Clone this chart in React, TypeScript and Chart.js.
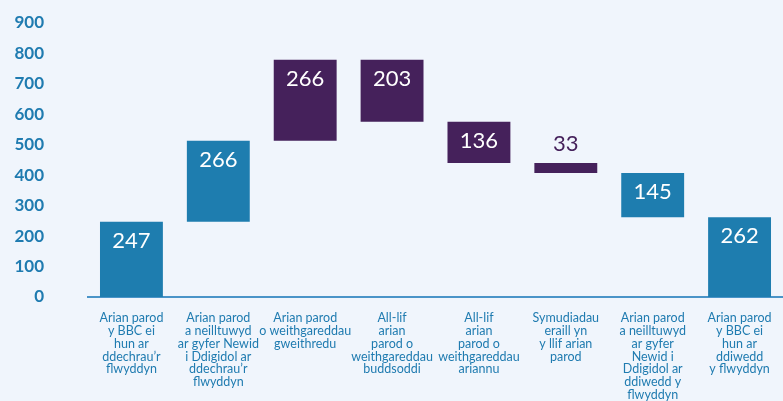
import React, { useEffect, useRef } from "react";
import { Chart, registerables } from "chart.js";

Chart.register(...registerables);

const categories: string[][] = [
  ["Arian parod", "y BBC ei", "hun ar", "ddechrau’r", "flwyddyn"],
  ["Arian parod", "a neilltuwyd", "ar gyfer Newid", "i Ddigidol ar", "ddechrau’r", "flwyddyn"],
  ["Arian parod", "o weithgareddau", "gweithredu"],
  ["All-lif", "arian", "parod o", "weithgareddau", "buddsoddi"],
  ["All-lif", "arian", "parod o", "weithgareddau", "ariannu"],
  ["Symudiadau", "eraill yn", "y llif arian", "parod"],
  ["Arian parod", "a neilltuwyd", "ar gyfer", "Newid i", "Ddigidol ar", "ddiwedd y", "flwyddyn"],
  ["Arian parod", "y BBC ei", "hun ar", "ddiwedd", "y flwyddyn"],
];
const changes = [247, 266, 266, -203, -136, -33, -145, 262];
const isTotal = [true, false, false, false, false, false, false, true];
const yTicks = [0, 100, 200, 300, 400, 500, 600, 700, 800, 900];

const BLUE = "#1e7daf";
const PURPLE = "#45215b";
const barColors = [BLUE, BLUE, PURPLE, PURPLE, PURPLE, PURPLE, BLUE, BLUE];

function buildRanges(): [number, number][] {
  let running = 0;
  return changes.map((c, i) => {
    if (isTotal[i]) {
      running = c;
      return [0, c] as [number, number];
    }
    const start = running;
    running = running + c;
    return [start, running] as [number, number];
  });
}

const valueLabels = {
  id: "valueLabels",
  afterDatasetsDraw(chart: any) {
    const ctx = chart.ctx;
    const meta = chart.getDatasetMeta(0);
    ctx.save();
    ctx.font = "22px Lato";
    ctx.textAlign = "center";
    ctx.textBaseline = "middle";
    meta.data.forEach((el: any, i: number) => {
      const top = Math.min(el.y, el.base);
      const h = Math.abs(el.base - el.y);
      const text = String(Math.abs(changes[i]));
      if (h < 30) {
        ctx.fillStyle = barColors[i];
        ctx.fillText(text, el.x, top - 19);
      } else {
        ctx.fillStyle = "#ffffff";
        ctx.fillText(text, el.x, top + 19);
      }
    });
    ctx.restore();
  },
};

export default function App() {
  const ref = useRef<HTMLCanvasElement>(null);
  useEffect(() => {
    if (!ref.current) return;
    const chart = new Chart(ref.current, {
      type: "bar",
      data: {
        labels: categories,
        datasets: [
          {
            data: buildRanges() as any,
            backgroundColor: barColors,
            borderWidth: 0,
            barPercentage: 0.724,
            categoryPercentage: 1,
          },
        ],
      },
      options: {
        responsive: false,
        animation: false,
        layout: { padding: { top: 23, right: 0, left: 0, bottom: 0 } },
        plugins: { legend: { display: false }, tooltip: { enabled: false } },
        scales: {
          x: {
            grid: { display: false, drawTicks: false },
            border: { display: true, color: "#4a94c8", width: 2 },
            ticks: {
              color: "#1f7bb0",
              font: { family: "Lato", size: 12.5, lineHeight: 1.02 },
              padding: 15,
              maxRotation: 0,
              minRotation: 0,
              autoSkip: false,
            },
            afterFit: (s: any) => {
              s.height = 104;
              s.paddingTop = 0;
              s.paddingBottom = 0;
              s.paddingLeft = 0;
              s.paddingRight = 0;
            },
          },
          y: {
            min: 0,
            max: 900,
            afterBuildTicks: (s: any) => {
              s.ticks = yTicks.map((v) => ({ value: v }));
            },
            grid: { display: false, drawTicks: false },
            border: { display: false },
            ticks: {
              color: "#1f7bb0",
              font: { family: "Lato", size: 17, weight: "bold" },
              padding: 44,
            },
            afterFit: (s: any) => {
              s.width = 88;
              s.paddingTop = 0;
              s.paddingBottom = 0;
            },
          },
        },
      },
      plugins: [valueLabels],
    });
    return () => chart.destroy();
  }, []);
  return (
    <div
      style={{
        position: "fixed",
        left: 0,
        top: 0,
        width: 783,
        height: 401,
        background: "#f0f5fc",
      }}
    >
      <canvas ref={ref} width={783} height={401} />
    </div>
  );
}
